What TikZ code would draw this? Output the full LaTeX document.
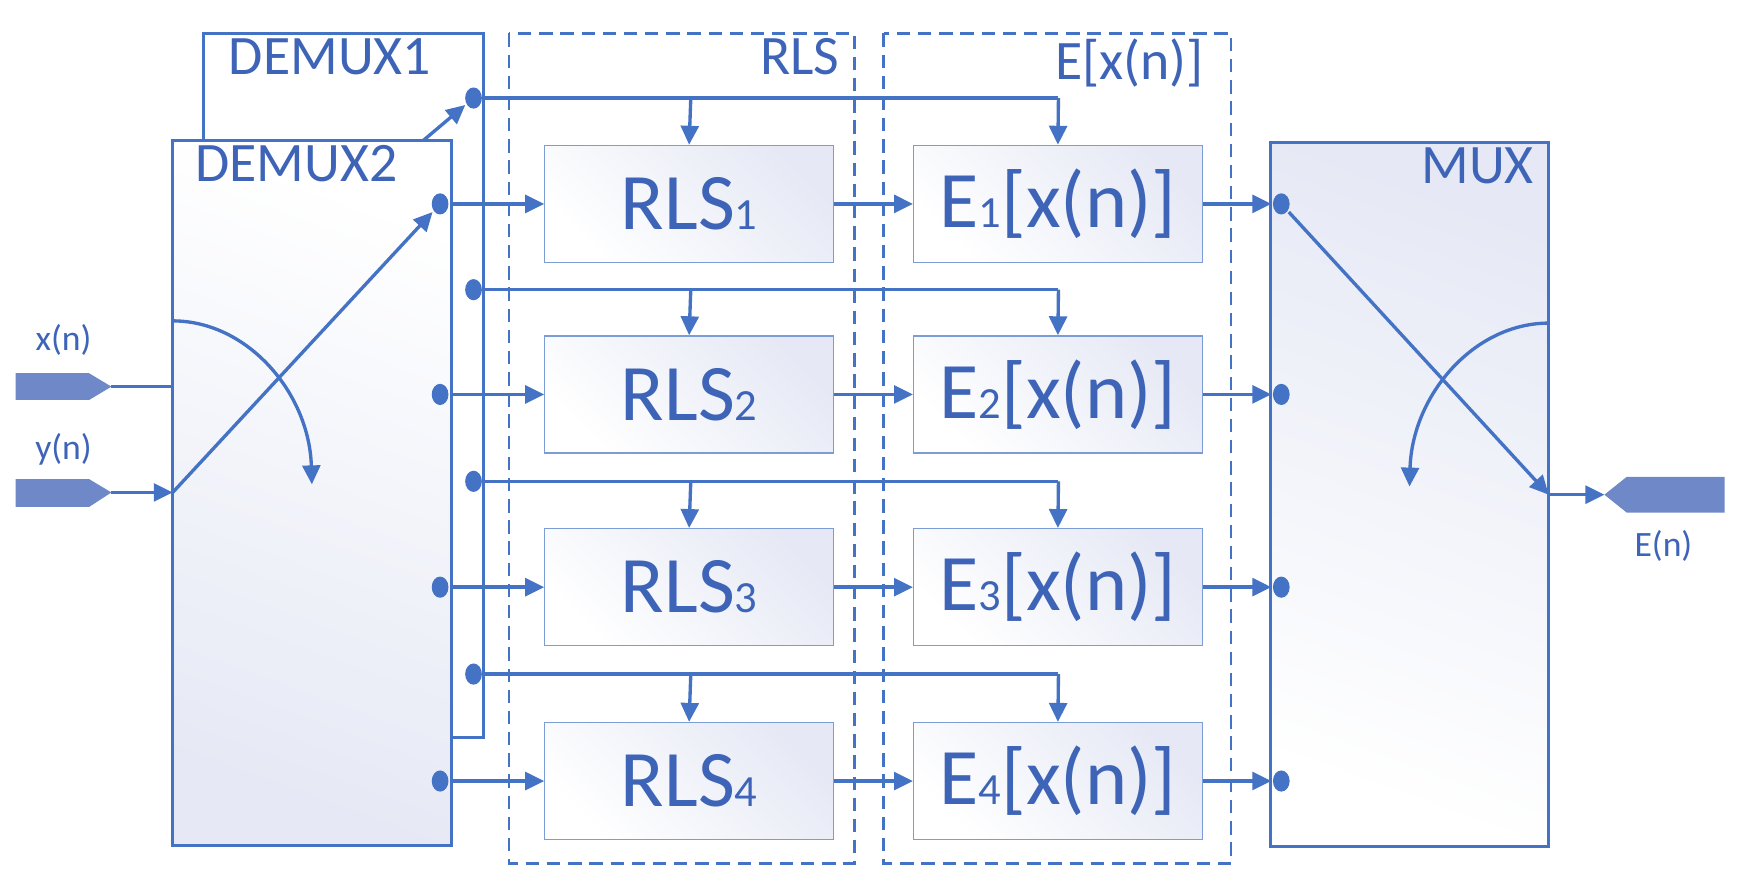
\documentclass[tikz,border=0pt]{standalone}
\usepackage{fontspec}
\setmainfont{Carlito}
\usetikzlibrary{arrows.meta,shapes.geometric}
\definecolor{ln}{HTML}{4472C4}
\definecolor{tx}{HTML}{3E64B8}
\definecolor{pf}{HTML}{6F89C8}
\definecolor{lav}{HTML}{E6E9F5}
\begin{document}
\begin{tikzpicture}[x=1pt,y=-1pt,
  line width=3pt,
  ar/.style={draw=ln,-{Triangle[length=17pt,width=16pt]}},
  dot/.style={ellipse,fill=ln,inner sep=0pt,minimum width=15pt,minimum height=19pt},
  blk/.style={draw=ln!70,line width=1.2pt,top color=lav,bottom color=white,shading angle=-45,minimum width=259pt,minimum height=105pt,inner sep=0pt,text=tx,font=\fontsize{72}{72}\selectfont},
  big/.style={draw=ln,line width=2.8pt},
  lbl/.style={text=tx,font=\fontsize{50}{50}\selectfont,inner sep=0pt},
  sm/.style={text=tx,font=\fontsize{32}{32}\selectfont,inner sep=0pt},
  dsh/.style={draw=ln,line width=2pt,dash pattern=on 12pt off 7pt}]
\useasboundingbox (0,0) rectangle (1568,800);
\draw[dsh] (457,30) rectangle (767,775);
\draw[dsh] (793,30) rectangle (1105,775);
\node[lbl,anchor=north east] (rlsl) at (755,33) {RLS};
\node[lbl,anchor=north east] (exl) at (1082,33) {E[x(n)]};
\draw[big,fill=white] (183,30) rectangle (434,662);
\node[lbl,anchor=north west] (d1) at (204,33) {DEMUX1};
\draw[big,shading=axis,top color=white,bottom color=lav,shading angle=-20] (155,126) rectangle (405,759);
\node[lbl,anchor=north west] (d2) at (174,129) {DEMUX2};
\draw[big,shading=axis,top color=lav,bottom color=white,shading angle=-20] (1140,128) rectangle (1390,760);
\node[lbl,anchor=north east] (mx) at (1378,131) {MUX};
\node[sm] (xl) at (57,305) {x(n)};
\node[sm] (yl) at (57,403) {y(n)};
\node[sm] (el) at (1493,490) {E(n)};
\fill[pf] (14,335) -- (80,335) -- (100,347) -- (80,359) -- (14,359) -- cycle;
\fill[pf] (14,430) -- (80,430) -- (100,442) -- (80,455) -- (14,455) -- cycle;
\fill[pf] (1548,428) -- (1460,428) -- (1440,444) -- (1460,460) -- (1548,460) -- cycle;
\coordinate (xin) at (100,347);
\coordinate (yin) at (100,442);
\coordinate (dx) at (155,347);
\coordinate (dy) at (155,442);
\coordinate (oin) at (1440,444);
\coordinate (mo) at (1390,444);
\draw[ln] (xin) -- (dx);
\draw[ar] (yin) -- (dy);
\draw[ar] (mo) -- (oin);
\draw[ln,-{Triangle[length=17pt,width=16pt]}] (155,288) arc[start angle=-90,end angle=-2,x radius=125,y radius=152];
\coordinate (mxs) at (1390,290);
\draw[ln,-{Triangle[length=17pt,width=16pt]}] (mxs) arc[start angle=-90,end angle=-178,x radius=125,y radius=152];
\foreach \i/\y in {1/183,2/354,3/527,4/701}{
  \node[dot] (a\i) at (395,\y) {};
  \node[dot] (m\i) at (1150,\y) {};
  \node[blk] (r\i) at (618.5,\y) {RLS{\fontsize{40}{40}\selectfont\i}};
  \node[blk] (e\i) at (949.5,\y) {E{\fontsize{40}{40}\selectfont\i}[x(n)]};
  \draw[ar] (a\i) -- (r\i);
  \draw[ar] (r\i) -- (e\i);
  \draw[ar] (e\i) -- (m\i);
}
\foreach \i/\y in {1/88,2/260,3/432,4/605}{
  \node[dot] (b\i) at (425,\y) {};
  \draw[ln] (b\i.east) -- (950,\y);
  \draw[ar] (950,\y) -- (e\i.north);
  \draw[ar] (620,\y) -- (r\i.north);
}
\draw[ar] (dy) -- (a1);
\draw[ar] (380,126) -- (b1);
\draw[ar] (m1) -- (mo);
\end{tikzpicture}
\end{document}
